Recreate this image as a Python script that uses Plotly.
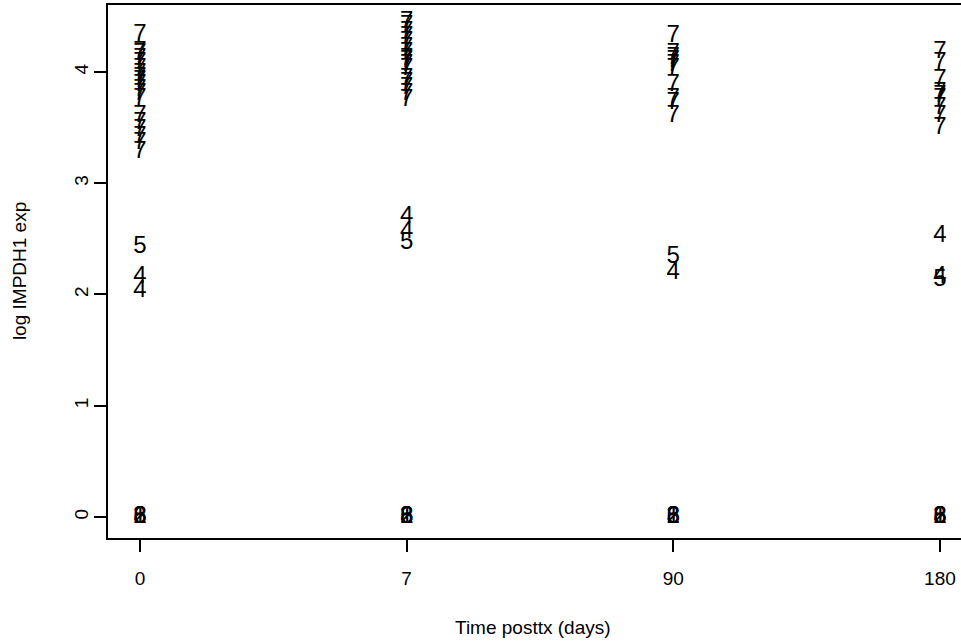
import plotly.graph_objects as go

# Sampling times after transplant (days)
days = ["0", "7", "90", "180"]

# log IMPDH1 expression, grouped by the digit used as the plotting symbol
seven_d0 = [4.33, 4.18, 4.16, 4.12, 4.08, 4.03, 3.98, 3.95, 3.92, 3.88, 3.84,
            3.80, 3.76, 3.60, 3.54, 3.48, 3.42, 3.36, 3.28]
seven_d7 = [4.45, 4.41, 4.36, 4.31, 4.27, 4.22, 4.17, 4.12, 4.10, 4.06, 4.03,
            3.94, 3.90, 3.86, 3.80, 3.75]
seven_d90 = [4.32, 4.16, 4.13, 4.10, 4.06, 4.03, 3.88, 3.76, 3.72, 3.60]
seven_d180 = [4.18, 4.08, 3.93, 3.81, 3.78, 3.76, 3.68, 3.60, 3.50]

four_d0 = [2.16, 2.03]
four_d7 = [2.70, 2.56]
four_d90 = [2.19]
four_d180 = [2.53, 2.16]

five_d0 = [2.43]
five_d7 = [2.46]
five_d90 = [2.34]
five_d180 = [2.13]

# Samples with no detectable expression
zero_labels = ["1", "2", "3", "6", "8"]
zero_value = 0.0

FONT = "Liberation Sans, Arial, Helvetica, sans-serif"


def group_trace(label, per_day):
    xs, ys = [], []
    for day, vals in zip(days, per_day):
        xs += [day] * len(vals)
        ys += vals
    return go.Scatter(
        x=xs, y=ys, mode="text", text=[label] * len(ys),
        textposition="middle center", cliponaxis=False,
        textfont=dict(family=FONT, size=24, color="black"),
        showlegend=False, hoverinfo="x+y",
    )


fig = go.Figure()
fig.add_trace(group_trace("7", [seven_d0, seven_d7, seven_d90, seven_d180]))
fig.add_trace(group_trace("4", [four_d0, four_d7, four_d90, four_d180]))
fig.add_trace(group_trace("5", [five_d0, five_d7, five_d90, five_d180]))
for lab in zero_labels:
    fig.add_trace(group_trace(lab, [[zero_value]] * len(days)))

fig.update_layout(
    width=961, height=642,
    margin=dict(l=108, r=0, t=5, b=104),
    paper_bgcolor="white", plot_bgcolor="white",
    font=dict(family=FONT, size=19, color="black"),
    xaxis=dict(
        type="category", categoryorder="array", categoryarray=days,
        range=[-0.12, 3.079],
        showline=True, linecolor="black", linewidth=2, mirror=True,
        ticks="outside", ticklen=12, tickwidth=2, tickcolor="black",
        ticklabelstandoff=10, showgrid=False, zeroline=False,
        tickfont=dict(size=19),
    ),
    yaxis=dict(
        range=[-0.189, 4.602],
        tickvals=[0, 1, 2, 3, 4], ticktext=["0", "1", "2", "3", "4"],
        tickangle=-90,
        showline=True, linecolor="black", linewidth=2, mirror=False,
        ticks="outside", ticklen=12, tickwidth=2, tickcolor="black",
        ticklabelstandoff=-2, showgrid=False, zeroline=False,
        tickfont=dict(size=19),
    ),
    annotations=[
        dict(text="Time posttx (days)", xref="paper", yref="paper",
             x=0.498, y=-0.167, xanchor="center", yanchor="middle",
             showarrow=False, font=dict(size=19)),
        dict(text="log IMPDH1 exp", xref="paper", yref="paper",
             x=-0.103, y=0.501, xanchor="center", yanchor="middle",
             textangle=-90, showarrow=False, font=dict(size=19)),
    ],
)

fig.write_html("out.html")
